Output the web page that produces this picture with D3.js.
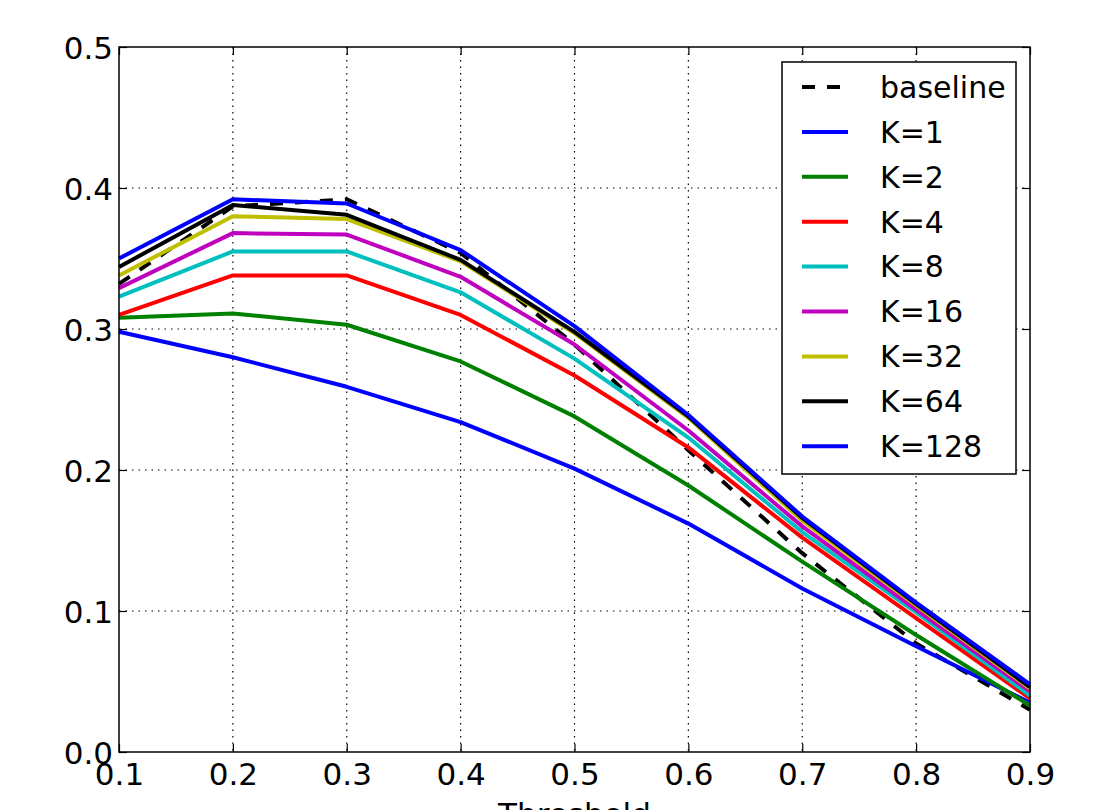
<!DOCTYPE html>
<html>
<head>
<meta charset="utf-8">
<script src="https://cdn.jsdelivr.net/npm/d3@7"></script>
<style>
  body { margin: 0; background: #fff; }
  text { font-family: "DejaVu Sans", sans-serif; fill: #000; }
</style>
</head>
<body>
<script>
// data
var thresholds = [0.1, 0.2, 0.3, 0.4, 0.5, 0.6, 0.7, 0.8, 0.9];
var baseline = [0.332, 0.387, 0.392, 0.354, 0.289, 0.214, 0.141, 0.077, 0.030];
var k1   = [0.298, 0.280, 0.259, 0.234, 0.201, 0.162, 0.116, 0.075, 0.035];
var k2   = [0.308, 0.311, 0.303, 0.277, 0.238, 0.189, 0.135, 0.083, 0.033];
var k4   = [0.310, 0.338, 0.338, 0.310, 0.267, 0.216, 0.152, 0.095, 0.038];
var k8   = [0.323, 0.355, 0.355, 0.326, 0.279, 0.223, 0.156, 0.099, 0.040];
var k16  = [0.329, 0.368, 0.367, 0.337, 0.289, 0.228, 0.160, 0.101, 0.043];
var k32  = [0.338, 0.380, 0.378, 0.348, 0.297, 0.237, 0.164, 0.104, 0.045];
var k64  = [0.344, 0.388, 0.381, 0.349, 0.298, 0.238, 0.166, 0.105, 0.046];
var k128 = [0.350, 0.392, 0.389, 0.356, 0.302, 0.239, 0.167, 0.106, 0.048];

var seriesNames = ["baseline", "K=1", "K=2", "K=4", "K=8", "K=16", "K=32", "K=64", "K=128"];
var seriesValues = [baseline, k1, k2, k4, k8, k16, k32, k64, k128];
var seriesColors = ["#000000", "#0000ff", "#008000", "#ff0000", "#00bfbf", "#bf00bf", "#bfbf00", "#000000", "#0000ff"];

var xTicks = [0.1, 0.2, 0.3, 0.4, 0.5, 0.6, 0.7, 0.8, 0.9];
var yTicks = [0.0, 0.1, 0.2, 0.3, 0.4, 0.5];

var W = 1105, H = 810;
// plot box (pixels)
var pLeft = 119, pRight = 1030, pTop = 47, pBottom = 752;

var svg = d3.select("body").append("svg")
  .attr("width", W)
  .attr("height", H);

var x = d3.scaleLinear().domain([0.1, 0.9]).range([pLeft, pRight]);
var y = d3.scaleLinear().domain([0, 0.5]).range([pBottom, pTop]);

// dotted grid
svg.append("g")
  .selectAll("line")
  .data(xTicks.slice(1, -1))
  .enter().append("line")
  .attr("x1", d => x(d)).attr("x2", d => x(d))
  .attr("y1", pTop).attr("y2", pBottom)
  .attr("stroke", "#000").attr("stroke-width", 1.2)
  .attr("stroke-dasharray", "1.5,5");
svg.append("g")
  .selectAll("line")
  .data(yTicks.slice(1, -1))
  .enter().append("line")
  .attr("x1", pLeft).attr("x2", pRight)
  .attr("y1", d => y(d)).attr("y2", d => y(d))
  .attr("stroke", "#000").attr("stroke-width", 1.2)
  .attr("stroke-dasharray", "1.5,5");

// lines
var line = d3.line()
  .x((d, i) => x(thresholds[i]))
  .y(d => y(d));

var plot = svg.append("g");
seriesValues.forEach(function(vals, i) {
  plot.append("path")
    .attr("d", line(vals))
    .attr("fill", "none")
    .attr("stroke", seriesColors[i])
    .attr("stroke-width", 4)
    .attr("stroke-linejoin", "round")
    .attr("stroke-dasharray", i == 0 ? "13,12" : null);
});

// axes with inward ticks on all sides
var fmt = d3.format(".1f");
var xAxis = svg.append("g")
  .attr("transform", "translate(0," + pBottom + ")")
  .call(d3.axisBottom(x).tickValues(xTicks).tickFormat(fmt).tickSizeInner(-8).tickSizeOuter(0));
var yAxis = svg.append("g")
  .attr("transform", "translate(" + pLeft + ",0)")
  .call(d3.axisLeft(y).tickValues(yTicks).tickFormat(fmt).tickSizeInner(-8).tickSizeOuter(0));
svg.append("g")
  .attr("transform", "translate(0," + pTop + ")")
  .call(d3.axisTop(x).tickValues(xTicks).tickFormat("").tickSizeInner(-8).tickSizeOuter(0));
svg.append("g")
  .attr("transform", "translate(" + pRight + ",0)")
  .call(d3.axisRight(y).tickValues(yTicks).tickFormat("").tickSizeInner(-8).tickSizeOuter(0));

svg.selectAll(".domain").remove();
svg.selectAll(".tick line").attr("stroke", "#000").attr("stroke-width", 1.2);
svg.selectAll(".tick text").style("font-size", "31px").style("font-family", "DejaVu Sans");
xAxis.selectAll(".tick text").attr("y", 33).attr("dy", null);
yAxis.selectAll(".tick text").attr("x", -6).attr("dy", "0.36em");

// frame
svg.append("rect")
  .attr("x", pLeft).attr("y", pTop)
  .attr("width", pRight - pLeft).attr("height", pBottom - pTop)
  .attr("fill", "none").attr("stroke", "#000").attr("stroke-width", 1.5);

// x label (cut off at bottom like the original)
svg.append("text")
  .attr("x", (pLeft + pRight) / 2)
  .attr("y", 825)
  .attr("text-anchor", "middle")
  .style("font-size", "31px")
  .text("Threshold");

// legend
var lg = svg.append("g");
lg.append("rect")
  .attr("x", 782).attr("y", 62)
  .attr("width", 234).attr("height", 412)
  .attr("fill", "#fff").attr("stroke", "#000").attr("stroke-width", 1.5);
seriesNames.forEach(function(name, i) {
  var yy = 87 + i * 44.9;
  lg.append("line")
    .attr("x1", 802).attr("x2", 848)
    .attr("y1", yy).attr("y2", yy)
    .attr("stroke", seriesColors[i])
    .attr("stroke-width", 4)
    .attr("stroke-dasharray", i == 0 ? "13,12" : null);
  lg.append("text")
    .attr("x", 880).attr("y", yy)
    .attr("dy", "0.36em")
    .style("font-size", "30px")
    .text(name);
});
</script>
</body>
</html>
